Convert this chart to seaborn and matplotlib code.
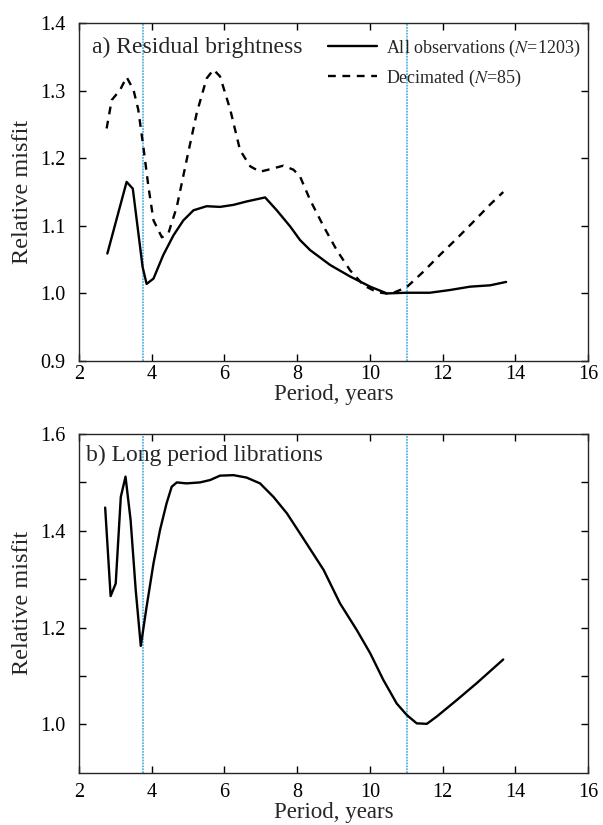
import numpy as np
import pandas as pd
import matplotlib
matplotlib.use("Agg")
import matplotlib.pyplot as plt
import seaborn as sns

# ---- data ----
all_period = [2.78, 3.31, 3.48, 3.75, 3.86, 4.05, 4.32, 4.6, 4.87, 5.15, 5.51, 5.88, 6.25, 6.61,
              7.12, 7.44, 7.81, 8.08, 8.36, 8.91, 9.46, 10.01, 10.47, 11.0, 11.65, 12.2, 12.76,
              13.31, 13.75]
all_misfit = [1.059, 1.165, 1.155, 1.039, 1.014, 1.022, 1.057, 1.086, 1.108, 1.123, 1.129, 1.128,
              1.131, 1.136, 1.142, 1.123, 1.099, 1.079, 1.064, 1.042, 1.025, 1.010, 1.0, 1.001,
              1.001, 1.005, 1.010, 1.012, 1.017]

dec_period = [2.76, 2.9, 3.13, 3.31, 3.5, 3.63, 3.77, 3.91, 4.05, 4.28, 4.46, 4.69, 4.96, 5.24,
              5.51, 5.7, 5.88, 6.16, 6.43, 6.71, 6.98, 7.35, 7.62, 7.9, 8.08, 8.36, 8.73, 9.09,
              9.46, 9.83, 10.19, 10.56, 11.01, 11.47, 11.93, 12.39, 12.85, 13.3, 13.67]
dec_misfit = [1.244, 1.286, 1.301, 1.32, 1.301, 1.272, 1.217, 1.158, 1.108, 1.083, 1.089, 1.128,
              1.197, 1.267, 1.318, 1.331, 1.321, 1.272, 1.212, 1.188, 1.18, 1.185, 1.189, 1.183,
              1.173, 1.138, 1.099, 1.064, 1.034, 1.012, 1.002, 0.999, 1.009, 1.032, 1.057, 1.081,
              1.106, 1.131, 1.150]

lib_period = [2.72, 2.87, 3.01, 3.15, 3.28, 3.42, 3.56, 3.7, 3.86, 4.05, 4.23, 4.41, 4.55, 4.69,
              4.96, 5.33, 5.61, 5.88, 6.25, 6.61, 6.98, 7.35, 7.72, 8.12, 8.73, 9.18, 9.64,
              10.01, 10.37, 10.74, 11.02, 11.29, 11.57, 11.84, 12.39, 12.94, 13.67]
lib_misfit = [1.448, 1.265, 1.291, 1.47, 1.512, 1.422, 1.278, 1.162, 1.243, 1.333, 1.402, 1.457,
              1.491, 1.5, 1.498, 1.5, 1.505, 1.514, 1.515, 1.51, 1.498, 1.47, 1.436, 1.39,
              1.319, 1.25, 1.195, 1.147, 1.092, 1.043, 1.019, 1.002, 1.001, 1.016, 1.05, 1.085,
              1.134]

vline_periods = [3.77, 11.03]

x_ticks = [2, 4, 6, 8, 10, 12, 14, 16]
top_yticks = [0.9, 1.0, 1.1, 1.2, 1.3, 1.4]
bot_yticks = [1.0, 1.1, 1.2, 1.3, 1.4, 1.5, 1.6]
bot_ylabels = ["1.0", "", "1.2", "", "1.4", "", "1.6"]

label_all = "All observations ($N$=1203)"
label_dec = "Decimated ($N$=85)"
title_a = "a) Residual brightness"
title_b = "b) Long period librations"

# ---- style ----
sns.set_style("ticks")
plt.rcParams["font.family"] = ["Liberation Serif", "DejaVu Serif"]
plt.rcParams["mathtext.fontset"] = "stix"
plt.rcParams["axes.linewidth"] = 1.0

fig = plt.figure(figsize=(6.03, 8.25), dpi=100)
ax1 = fig.add_axes([0.131, 0.5624, 0.844, 0.4097])
ax2 = fig.add_axes([0.131, 0.0634, 0.844, 0.4105])

df_all = pd.DataFrame({"Period": all_period, "Misfit": all_misfit})
df_dec = pd.DataFrame({"Period": dec_period, "Misfit": dec_misfit})
df_lib = pd.DataFrame({"Period": lib_period, "Misfit": lib_misfit})

vcol = "#56b4e3"
for ax in (ax1, ax2):
    for v in vline_periods:
        ax.axvline(v, color=vcol, lw=1.3, linestyle=(0, (1, 0.6)), zorder=1)

sns.lineplot(data=df_all, x="Period", y="Misfit", ax=ax1, color="black", lw=1.7,
             label=label_all, sort=False, zorder=3)
sns.lineplot(data=df_dec, x="Period", y="Misfit", ax=ax1, color="black", lw=1.7,
             label=label_dec, sort=False, zorder=3)
ax1.lines[-1].set_dashes((3.3, 2.8))

sns.lineplot(data=df_lib, x="Period", y="Misfit", ax=ax2, color="black", lw=1.7,
             sort=False, legend=False, zorder=3)

for ax, xpad in ((ax1, 3), (ax2, 7.5)):
    ax.set_xlim(2, 16)
    ax.set_xticks(x_ticks)
    ax.set_xticklabels([str(t) for t in x_ticks])
    ax.tick_params(direction="in", top=True, right=True, length=5, width=1.0,
                   labelsize=14.5, colors="black")
    ax.tick_params(axis="y", pad=10)
    ax.tick_params(axis="x", pad=xpad)
    ax.set_xlabel("Period, years", fontsize=16.5, labelpad=0)
    ax.set_ylabel("Relative misfit", fontsize=17.5, labelpad=5)

ax1.set_ylim(0.9, 1.4)
ax1.set_yticks(top_yticks)
ax1.set_yticklabels([f"{t:.1f}" for t in top_yticks])

ax2.set_ylim(0.9, 1.6)
ax2.set_yticks(bot_yticks)
ax2.set_yticklabels(bot_ylabels)

ax1.text(0.026, 0.928, title_a, transform=ax1.transAxes, fontsize=17, va="center", ha="left")
ax2.text(0.014, 0.936, title_b, transform=ax2.transAxes, fontsize=17, va="center", ha="left")

handles, labels = ax1.get_legend_handles_labels()
ax1.legend(handles, labels, loc="upper left", bbox_to_anchor=(0.49, 0.957), frameon=False,
           fontsize=13, handlelength=2.7, handletextpad=0.5, labelspacing=0.5, borderpad=0,
           borderaxespad=0)

fig.savefig("out.png", dpi=100)
